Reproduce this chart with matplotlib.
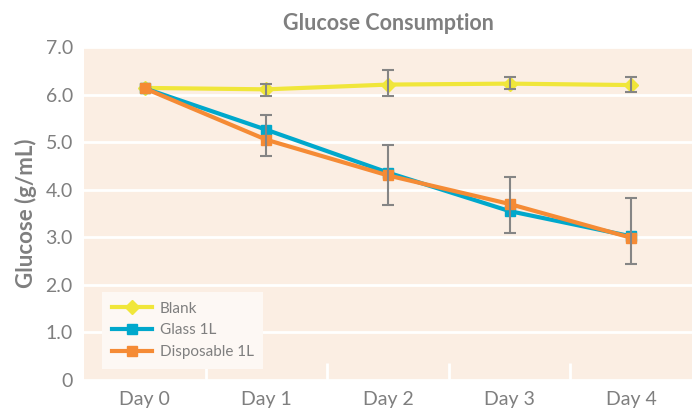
import matplotlib.pyplot as plt
import numpy as np

days = ["Day 0", "Day 1", "Day 2", "Day 3", "Day 4"]
blank = [6.14, 6.11, 6.21, 6.23, 6.20]
glass = [6.13, 5.26, 4.36, 3.55, 3.02]
disposable = [6.13, 5.05, 4.30, 3.70, 2.99]

# error bar ends
blank_hi = [6.14, 6.22, 6.51, 6.36, 6.36]
blank_lo = [6.14, 5.96, 5.96, 6.11, 6.06]
disp_hi = [6.13, 5.58, 4.93, 4.26, 3.83]
disp_lo = [6.13, 4.70, 3.67, 3.08, 2.44]

grey = "#7f7f7f"
plt.rcParams['font.family'] = ['Lato', 'DejaVu Sans']

fig = plt.figure(figsize=(6.96, 4.19), dpi=100)
ax = fig.add_axes([84 / 696, 39 / 419, 608 / 696, 333 / 419])
ax.set_facecolor("#fbeee3")

x = np.arange(len(days))
ax.plot(x, blank, color="#f0e63a", lw=3, marker="D", ms=7.5, label="Blank", zorder=3)
ax.plot(x, glass, color="#00a8cc", lw=3, marker="s", ms=7.5, label="Glass 1L", zorder=3)
ax.plot(x, disposable, color="#f58b35", lw=3, marker="s", ms=7.5, label="Disposable 1L", zorder=4)

b = np.array(blank)
d = np.array(disposable)
ax.errorbar(x[1:], b[1:], yerr=[b[1:] - np.array(blank_lo[1:]), np.array(blank_hi[1:]) - b[1:]],
            fmt="none", ecolor="#858585", elinewidth=1.5, capsize=4.5, capthick=1.5, zorder=5)
ax.errorbar(x[1:], d[1:], yerr=[d[1:] - np.array(disp_lo[1:]), np.array(disp_hi[1:]) - d[1:]],
            fmt="none", ecolor="#858585", elinewidth=1.5, capsize=4.5, capthick=1.5, zorder=5)

ax.set_xlim(-0.5, 4.5)
ax.set_ylim(0, 7)
ax.set_yticks(np.arange(0, 8))
ax.set_yticklabels(["0"] + ["%.1f" % v for v in range(1, 8)])
ax.set_xticks(x)
ax.set_xticklabels(days)
ax.set_xticks(np.arange(0.5, 4.5, 1), minor=True)
ax.tick_params(axis="both", which="major", length=0, labelsize=14, colors=grey, pad=8)
ax.tick_params(axis="x", which="minor", direction="in", length=12, width=2, color="white")
ax.grid(axis="y", color="white", lw=2)
ax.set_axisbelow(True)
for s in ax.spines.values():
    s.set_visible(False)

ax.set_ylabel("Glucose (g/mL)", fontsize=16, fontweight="bold", color=grey, labelpad=6)
ax.set_title("Glucose Consumption", fontsize=15.5, fontweight="bold", color=grey, pad=12)

leg = ax.legend(loc="lower left", bbox_to_anchor=(0.03, 0.033), borderaxespad=0, fontsize=11,
                frameon=True, facecolor="#fdf8f4", edgecolor="none", framealpha=1,
                fancybox=False, handlelength=2.6, handletextpad=0.5, labelcolor=grey,
                borderpad=0.65, labelspacing=0.5)

fig.savefig("out.png", dpi=100)
